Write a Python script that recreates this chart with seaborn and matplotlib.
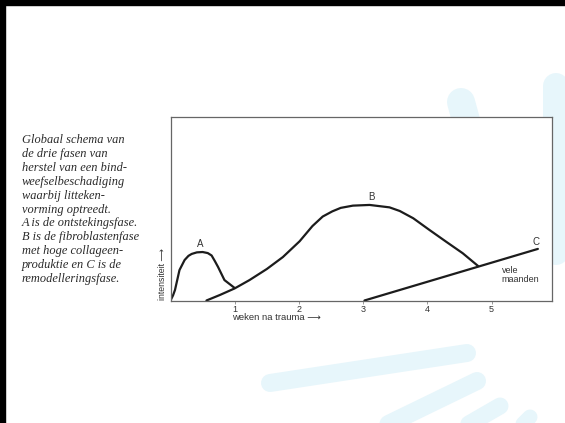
import matplotlib
matplotlib.use("Agg")
import matplotlib.pyplot as plt
from matplotlib.lines import Line2D
from matplotlib.patches import Rectangle
import seaborn as sns
import pandas as pd

# ---- data ----
weeks_a = [0.0, 0.04, 0.07, 0.14, 0.22, 0.28, 0.33, 0.41, 0.50, 0.58, 0.64,
           0.69, 0.74, 0.84, 1.00]
intens_a = [0.0, 0.30, 0.61, 1.76, 2.34, 2.58, 2.69, 2.78, 2.80, 2.74, 2.60,
            2.28, 1.94, 1.18, 0.72]

weeks_b = [0.56, 0.77, 1.00, 1.23, 1.50, 1.75, 2.01, 2.21, 2.37, 2.52, 2.65,
           2.84, 3.10, 3.41, 3.57, 3.78, 4.03, 4.29, 4.55, 4.79]
intens_b = [0.0, 0.32, 0.70, 1.18, 1.82, 2.51, 3.42, 4.30, 4.85, 5.15, 5.35,
            5.48, 5.52, 5.38, 5.17, 4.75, 4.08, 3.40, 2.73, 1.99]

weeks_c = [3.02, 5.72]
intens_c = [0.0, 2.98]

tick_weeks = [1, 2, 3, 4, 5]
tick_labels = ["1", "2", "3", "4", "5"]

phase_labels = ["A", "B", "C"]
caption_lines = [
    "Globaal schema van",
    "de drie fasen van",
    "herstel van een bind-",
    "weefselbeschadiging",
    "waarbij litteken-",
    "vorming optreedt.",
    "A is de ontstekingsfase.",
    "B is de fibroblastenfase",
    "met hoge collageen-",
    "produktie en C is de",
    "remodelleringsfase.",
]
x_label = "weken na trauma \u27f6"
y_label = "intensiteit \u27f6"
note_label = "vele\nmaanden"

df = pd.concat([
    pd.DataFrame({"week": weeks_a, "intens": intens_a, "fase": "A"}),
    pd.DataFrame({"week": weeks_b, "intens": intens_b, "fase": "B"}),
    pd.DataFrame({"week": weeks_c, "intens": intens_c, "fase": "C"}),
])

# ---- figure ----
sns.set_style("white")
plt.rcParams["font.family"] = ["Liberation Sans", "DejaVu Sans"]

W, H = 565, 423
fig = plt.figure(figsize=(W / 100, H / 100), dpi=100)
fig.patch.set_facecolor("white")

def fx(px):
    return px / W

def fy(py):
    return 1 - py / H

# decorative light-blue background strokes of the slide
blue = "#e7f6fb"
strokes = [
    ((270, 383), (467, 353), 18),
    ((372, 432), (477, 381), 18),
    ((455, 432), (500, 406), 17),
    ((515, 432), (530, 417), 15),
    ((556, 86), (556, 252), 26),
    ((461, 102), (470, 135), 28),
]
for (x0, y0), (x1, y1), w in strokes:
    fig.add_artist(Line2D([fx(x0), fx(x1)], [fy(y0), fy(y1)],
                          transform=fig.transFigure, color=blue,
                          lw=w * 0.72, solid_capstyle="round", zorder=-1))

# scan border (top and left)
fig.add_artist(Rectangle((0, fy(5)), 1, 5 / H, transform=fig.transFigure,
                         color="black", zorder=5))
fig.add_artist(Rectangle((0, 0), 5 / W, 1, transform=fig.transFigure,
                         color="black", zorder=5))

ax = fig.add_axes([fx(170.5), fy(300.5), fx(552) - fx(170.5), (300.5 - 117) / H])
ax.set_facecolor("white")

sns.lineplot(data=df, x="week", y="intens", units="fase", estimator=None,
             sort=False, color="#1c1c1c", lw=1.6, ax=ax, legend=False)
for ln in ax.lines:
    ln.set_solid_joinstyle("round")
    ln.set_solid_capstyle("round")

ax.set_xlim(0, 5.94)
ax.set_ylim(0, 10.6)
ax.set_xticks(tick_weeks)
ax.set_xticklabels(tick_labels)
ax.set_yticks([])
ax.tick_params(axis="x", length=2, width=0.6, color="#888888", pad=1.5,
               labelsize=6.5, labelcolor="#333333", bottom=True)
ax.set_xlabel("")
ax.set_ylabel("")
for s in ax.spines.values():
    s.set_visible(True)
    s.set_color("#666666")
    s.set_linewidth(0.9)

# axis labels
ax.text(0.161, -0.095, x_label, transform=ax.transAxes, ha="left", va="center",
        fontsize=6.8, color="#333333")
ax.text(-0.021, 0.0, y_label, transform=ax.transAxes, ha="center", va="bottom",
        rotation=90, fontsize=6.3, color="#333333")

# phase labels
ax.text(0.46, 3.27, phase_labels[0], ha="center", va="center", fontsize=7, color="#333333")
ax.text(3.13, 5.98, phase_labels[1], ha="center", va="center", fontsize=7, color="#333333")
ax.text(5.69, 3.38, phase_labels[2], ha="center", va="center", fontsize=7, color="#333333")
ax.text(5.16, 1.50, note_label, ha="left", va="center", fontsize=6.5,
        color="#333333", linespacing=1.0)

# caption
for i, line in enumerate(caption_lines):
    fig.text(fx(22), fy(140 + i * 13.9), line, ha="left", va="center",
             fontsize=8.9, style="italic", color="#2a2a2a",
             family=["Liberation Serif", "DejaVu Serif"])

fig.savefig("out.png", dpi=100, facecolor="white")
